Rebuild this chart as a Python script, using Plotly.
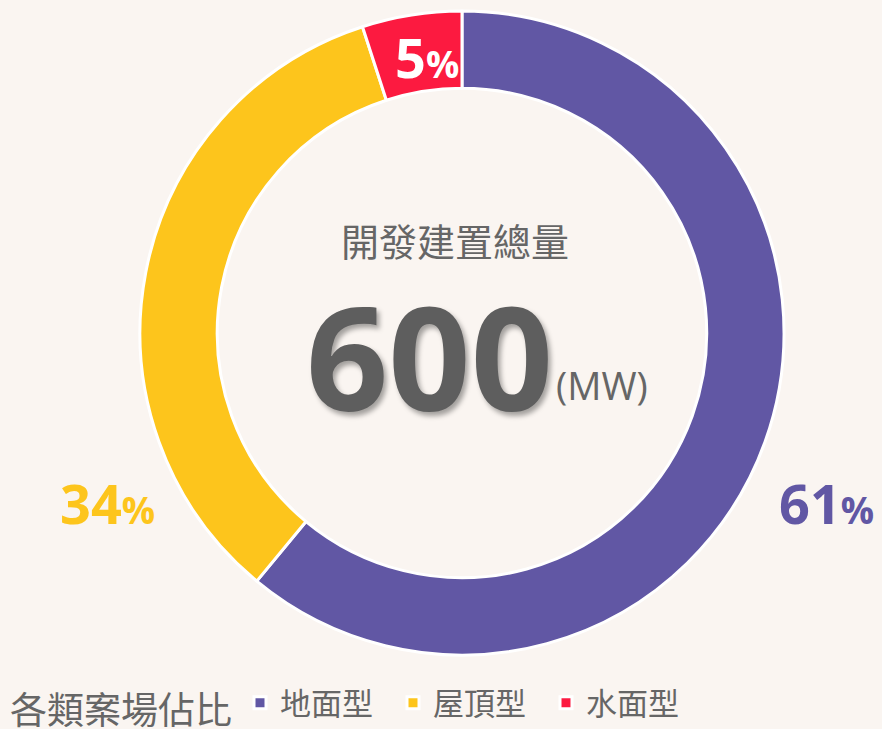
import plotly.graph_objects as go

# data
labels = ['地面型', '屋頂型', '水面型']
shares = [61, 34, 5]
slice_colors = ['#6157a4', '#fdc51c', '#fc1a40']
total_mw = 600
unit = '(MW)'
center_title = '開發建置總量'
legend_title = '各類案場佔比'

bg = '#faf5f1'
grey = '#666666'
num_font = 'Open Sans, Noto Sans, sans-serif'
cjk_font = 'Noto Sans CJK TC, sans-serif'

fig = go.Figure()
fig.add_pie(
    labels=labels, values=shares,
    sort=False, direction='clockwise', rotation=0,
    hole=0.76, textinfo='none', hoverinfo='label+percent',
    marker=dict(colors=slice_colors, line=dict(color='white', width=3)),
    domain=dict(x=[140/882, 784/882], y=[74/729, 718/729]))

# percent labels
def pct_text(v):
    return f'<b>{v}<span style="font-size:37px">%</span></b>'

label_pos = [(826/882, 0.31), (107/882, 0.31), (427/882, 0.922)]
label_colors = [slice_colors[0], slice_colors[1], 'white']
for v, (x, y), c in zip(shares, label_pos, label_colors):
    fig.add_annotation(x=x, y=y, xref='paper', yref='paper', showarrow=False,
                       xanchor='center', yanchor='middle',
                       text=pct_text(v), font=dict(family=num_font, size=54, color=c))

# centre texts
fig.add_annotation(x=0.516, y=0.671, xref='paper', yref='paper', showarrow=False,
                   xanchor='center', yanchor='middle',
                   text=center_title, font=dict(family=cjk_font, size=38, color=grey))
fig.add_annotation(x=0.4875, y=0.513, xref='paper', yref='paper', showarrow=False,
                   xanchor='center', yanchor='middle',
                   text=f'<b>{total_mw}</b>',
                   font=dict(family=num_font, size=144, color='#5e5e5e',
                             shadow='3px 4px 5px rgba(0,0,0,0.35)'))
fig.add_annotation(x=0.683, y=0.472, xref='paper', yref='paper', showarrow=False,
                   xanchor='center', yanchor='middle',
                   text=unit, font=dict(family=num_font, size=38, color=grey))

fig.update_layout(
    width=882, height=729,
    margin=dict(l=0, r=0, t=0, b=0, autoexpand=False),
    paper_bgcolor=bg, plot_bgcolor=bg,
    showlegend=True,
    legend=dict(orientation='h', x=8/882, xanchor='left', y=-6/729, yanchor='bottom',
                entrywidth=108, entrywidthmode='pixels',
                title=dict(text=legend_title, font=dict(family=cjk_font, size=37, color=grey)),
                font=dict(family=cjk_font, size=31, color=grey),
                bgcolor='rgba(0,0,0,0)'))

fig.write_html('out.html', config={'displayModeBar': False},
               post_script="document.body.style.margin='0px';")
